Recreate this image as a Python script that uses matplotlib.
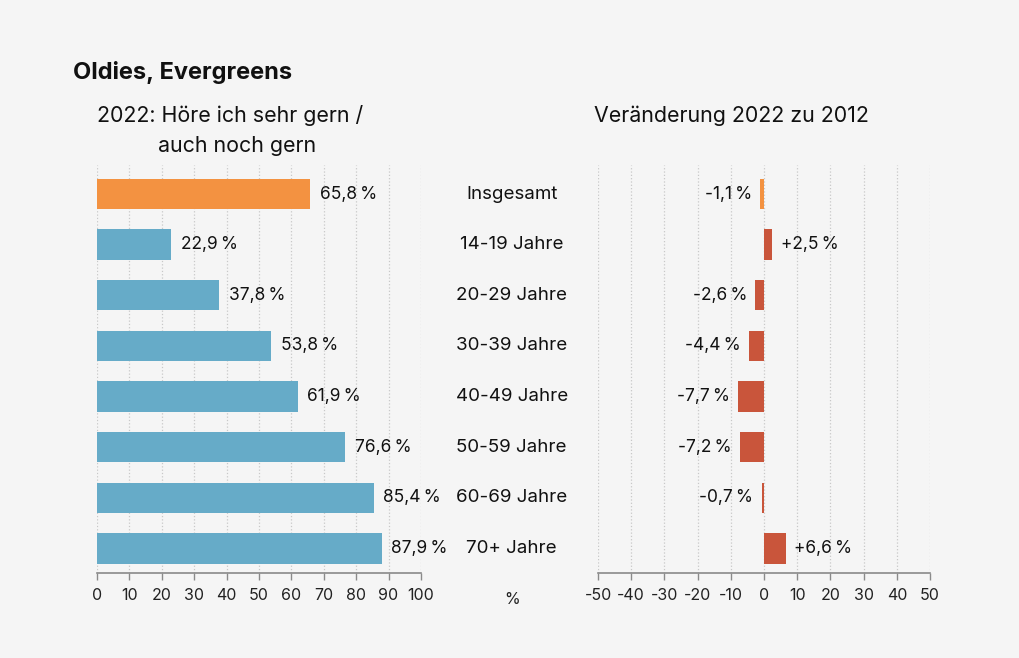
import matplotlib.pyplot as plt
import numpy as np

plt.rcParams['font.family'] = ['Inter', 'DejaVu Sans']
plt.rcParams['axes.unicode_minus'] = False

categories = ['Insgesamt', '14-19 Jahre', '20-29 Jahre', '30-39 Jahre',
              '40-49 Jahre', '50-59 Jahre', '60-69 Jahre', '70+ Jahre']
share_2022 = [65.8, 22.9, 37.8, 53.8, 61.9, 76.6, 85.4, 87.9]
change = [-1.1, 2.5, -2.6, -4.4, -7.7, -7.2, -0.7, 6.6]
left_ticks = list(range(0, 101, 10))
right_ticks = list(range(-50, 51, 10))

bg = '#f5f5f5'
orange = '#f39241'
blue = '#66abc8'
red = '#c9553b'
grid_col = '#c8c8c8'
axis_col = '#8a8a8a'


def fmt(v, sign=False):
    s = f'{abs(v):.1f}'.replace('.', ',')
    if sign:
        s = ('+' if v > 0 else '-') + s
    return s + '\u2009%'


fig = plt.figure(figsize=(10.2, 6.58), dpi=100, facecolor=bg)
ax1 = fig.add_axes([0.0951, 0.129, 0.3176, 0.62])
ax2 = fig.add_axes([0.5863, 0.129, 0.3255, 0.62])

y = np.arange(len(categories))
y_bottom, y_top = 7.49, -0.57

for ax in (ax1, ax2):
    ax.set_facecolor(bg)
    for s in ('top', 'right', 'left'):
        ax.spines[s].set_visible(False)
    ax.spines['bottom'].set_color(axis_col)
    ax.spines['bottom'].set_linewidth(1.2)
    ax.tick_params(axis='x', colors=axis_col, length=5, width=1,
                   labelcolor='#222222', labelsize=11.5, pad=6)
    ax.tick_params(axis='y', left=False, labelleft=False)
    ax.grid(axis='x', color=grid_col, linestyle=':', linewidth=0.9)
    ax.set_axisbelow(True)
    ax.set_ylim(y_bottom, y_top)

# left panel
colors1 = [orange] + [blue] * (len(categories) - 1)
ax1.barh(y, share_2022, height=0.6, color=colors1)
ax1.set_xlim(0, 100)
ax1.set_xticks(left_ticks)
for yi, v in zip(y, share_2022):
    ax1.text(v + 3, yi, fmt(v), va='center', ha='left', fontsize=12.5,
             color='#111111')

# right panel
colors2 = [orange] + [red] * (len(categories) - 1)
ax2.barh(y, change, height=0.6, color=colors2)
ax2.set_xlim(-50, 50)
ax2.set_xticks(right_ticks)
for yi, v in zip(y, change):
    if v < 0:
        ax2.text(v - 2.5, yi, fmt(v, True), va='center', ha='right',
                 fontsize=12.5, color='#111111')
    else:
        ax2.text(v + 2.5, yi, fmt(v, True), va='center', ha='left',
                 fontsize=12.5, color='#111111')

# category labels between panels
for yi, c in zip(y, categories):
    ax1.text(128, yi, c, va='center', ha='center', fontsize=13.5,
             color='#111111', clip_on=False)
ax1.text(128, y_bottom + 0.37, '%', va='top', ha='center', fontsize=11.5,
         color='#222222', clip_on=False)

# titles
fig.text(0.0716, 0.89, 'Oldies, Evergreens', fontsize=17, fontweight='bold',
         va='center', ha='left', color='#111111')
fig.text(0.0951, 0.824, '2022: Höre ich sehr gern /', fontsize=15.4,
         va='center', ha='left', color='#111111')
fig.text(0.155, 0.778, 'auch noch gern', fontsize=15.4,
         va='center', ha='left', color='#111111')
fig.text(0.717, 0.824, 'Veränderung 2022 zu 2012', fontsize=15.4,
         va='center', ha='center', color='#111111')

fig.savefig('out.png', dpi=100, facecolor=bg)
